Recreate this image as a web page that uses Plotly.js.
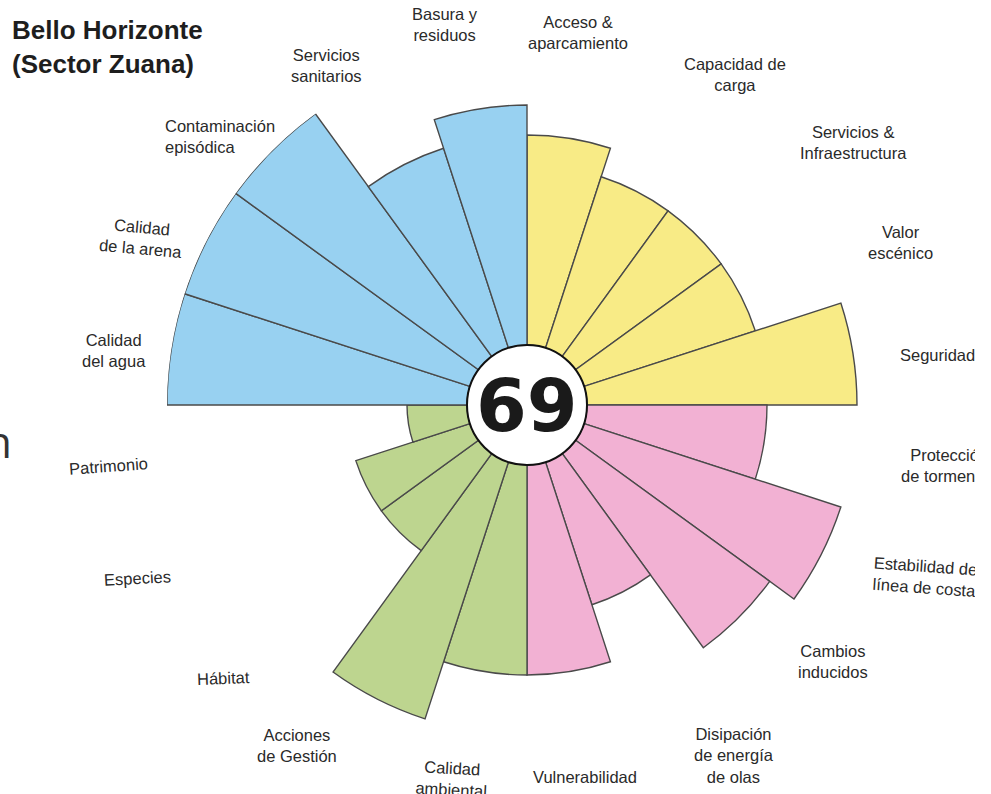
<!DOCTYPE html>
<html>
<head>
<meta charset="utf-8">
<script src="https://cdn.plot.ly/plotly-3.0.1.min.js"></script>
<style>
  html, body { margin: 0; padding: 0; background: #ffffff; overflow: hidden; }
  #chart { width: 975px; height: 794px; }
</style>
</head>
<body>
<div id="chart"></div>
<script>
// ---- Data (clockwise from the top) ----
const categories = [
  "Acceso &<br>aparcamiento",
  "Capacidad de<br>carga",
  "Servicios &<br>Infraestructura",
  "Valor<br>escénico",
  "Seguridad",
  "Protección<br>de tormentas",
  "Estabilidad de<br>línea de costa",
  "Cambios<br>inducidos",
  "Disipación<br>de energía<br>de olas",
  "Vulnerabilidad",
  "Calidad<br>ambiental",
  "Acciones<br>de Gestión",
  "Hábitat",
  "Especies",
  "Patrimonio",
  "Calidad<br>del agua",
  "Calidad<br>de la arena",
  "Contaminación<br>episódica",
  "Servicios<br>sanitarios",
  "Basura y<br>residuos"
];
const values = [7, 6, 6, 6, 9,   6, 9, 8, 5, 7,   7, 9, 4, 4, 2,   10, 10, 10, 7, 8];
const groups = ["uso","uso","uso","uso","uso",
                "proteccion","proteccion","proteccion","proteccion","proteccion",
                "conservacion","conservacion","conservacion","conservacion","conservacion",
                "calidad","calidad","calidad","calidad","calidad"];
const totalScore = "69";
const chartTitle = ["Bello Horizonte", "(Sector Zuana)"];

// ---- Styles / positions ----
const groupColors = {
  uso: "#F8EB86",
  proteccion: "#F2B1D3",
  conservacion: "#BDD58F",
  calidad: "#98D1F1"
};
const W = 975, H = 794;
const CX = 527, CY = 405, R = 360;
function px(x, y) { return { x: x / W, y: 1 - y / H }; }

// label placements in pixels: [x, y, xanchor, textangle]
const labelPos = [
  [578, 33, "center", 0],
  [735, 75, "center", 0],
  [853, 143, "center", 0],
  [900, 242, "center", 0],
  [937, 355, "center", 0],
  [949, 466, "center", 0],
  [925, 576, "center", 4],
  [833, 661, "center", 0],
  [734, 755, "center", 0],
  [585, 777, "center", 0],
  [452, 778, "center", 3],
  [297, 745, "center", 0],
  [223, 678, "center", -2],
  [137, 578, "center", -3],
  [108, 466, "center", -4],
  [114, 350, "center", 0],
  [141, 237, "center", 5],
  [163, 137, "left", 0],
  [326, 66, "center", 0],
  [445, 25, "center", 0]
];

const step = 360 / categories.length;
const trace = {
  type: "barpolar",
  r: values,
  theta: values.map((_, i) => i * step + step / 2),
  width: values.map(() => step),
  marker: {
    color: groups.map(g => groupColors[g]),
    line: { color: "#4a4a4a", width: 1.4 }
  },
  hoverinfo: "skip"
};

const annotations = [];
categories.forEach((c, i) => {
  const p = labelPos[i];
  const q = px(p[0], p[1]);
  annotations.push({
    xref: "paper", yref: "paper", x: q.x, y: q.y,
    xanchor: p[2], yanchor: "middle", align: p[2] === "left" ? "left" : "center",
    text: c, showarrow: false, textangle: p[3],
    font: { family: "Liberation Sans, Arial, sans-serif", size: 16.5, color: "#2a2a2a" }
  });
});
// title (two lines in one text block)
{
  const q = px(11, 47);
  annotations.push({
    xref: "paper", yref: "paper", x: q.x, y: q.y, xanchor: "left", yanchor: "middle",
    align: "left", borderpad: 0,
    text: "<b>" + chartTitle.join("<br>") + "</b>", showarrow: false,
    font: { family: "Liberation Sans, Arial, sans-serif", size: 26, color: "#1e1e1e" }
  });
}
// central score
{
  const q = px(CX, CY);
  annotations.push({
    xref: "paper", yref: "paper", x: q.x, y: q.y, xanchor: "center", yanchor: "middle",
    text: "<b>" + totalScore + "</b>", showarrow: false,
    font: { family: "DejaVu Sans, sans-serif", size: 73, color: "#1a1a1a" }
  });
}
// fragment of neighbouring panel text at left edge
{
  const q = px(14, 441);
  annotations.push({
    xref: "paper", yref: "paper", x: q.x, y: q.y, xanchor: "right", yanchor: "middle",
    text: "n", showarrow: false,
    font: { family: "Open Sans, sans-serif", size: 44, color: "#333333" }
  });
}

const holeR = 60;
const c0 = px(CX - holeR, CY + holeR), c1 = px(CX + holeR, CY - holeR);
const d0 = px(CX - R, CY + R), d1 = px(CX + R, CY - R);

const layout = {
  width: W, height: H,
  margin: { l: 0, r: 0, t: 0, b: 0 },
  paper_bgcolor: "#ffffff",
  showlegend: false,
  polar: {
    domain: { x: [d0.x, d1.x], y: [d0.y, d1.y] },
    hole: 1 / 6,
    bgcolor: "rgba(0,0,0,0)",
    radialaxis: { visible: false, range: [0, 10] },
    angularaxis: {
      direction: "clockwise", rotation: 90, thetaunit: "degrees",
      showline: false, showgrid: false, showticklabels: false, ticks: ""
    }
  },
  shapes: [{
    type: "circle", xref: "paper", yref: "paper",
    x0: c0.x, y0: c0.y, x1: c1.x, y1: c1.y,
    fillcolor: "#ffffff", line: { color: "#111111", width: 2 }, layer: "above"
  }],
  annotations: annotations
};

Plotly.newPlot("chart", [trace], layout, { displayModeBar: false, staticPlot: true });
</script>
</body>
</html>
